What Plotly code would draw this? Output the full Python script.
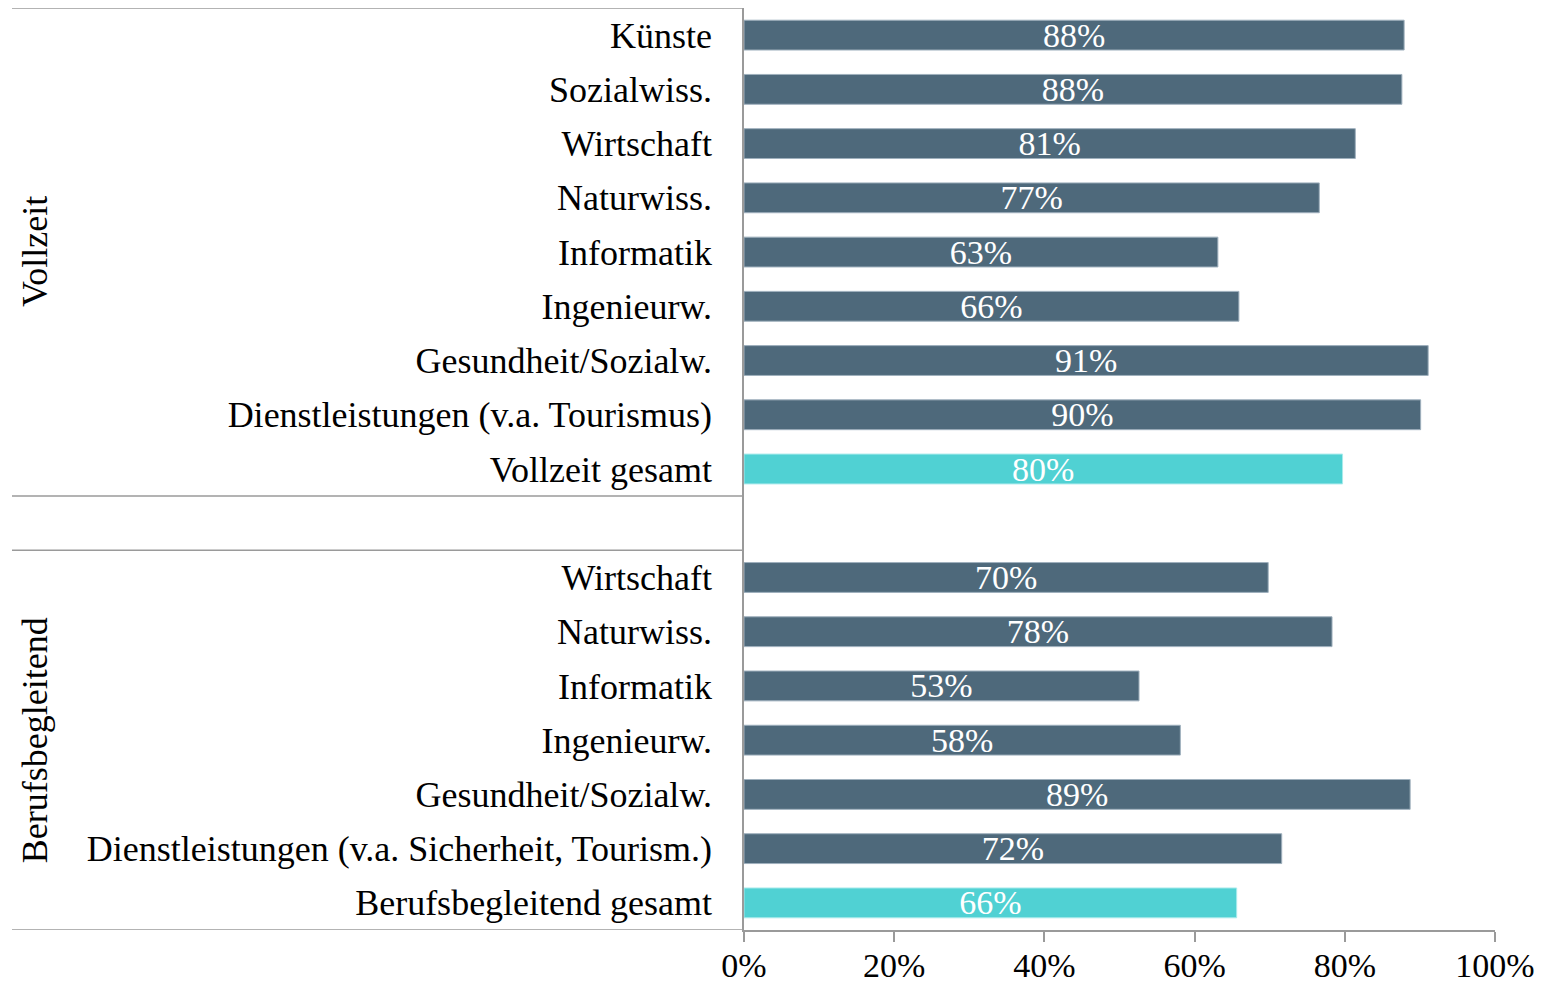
import plotly.graph_objects as go

# data (share, 0-1)
groups = ["Vollzeit", "Berufsbegleitend"]
cats_vollzeit = ["Künste", "Sozialwiss.", "Wirtschaft", "Naturwiss.", "Informatik",
                 "Ingenieurw.", "Gesundheit/Sozialw.", "Dienstleistungen (v.a. Tourismus)",
                 "Vollzeit gesamt"]
vals_vollzeit = [0.879, 0.876, 0.814, 0.766, 0.631, 0.659, 0.911, 0.901, 0.797]
cats_berufsb = ["Wirtschaft", "Naturwiss.", "Informatik", "Ingenieurw.", "Gesundheit/Sozialw.",
                "Dienstleistungen (v.a. Sicherheit, Tourism.)", "Berufsbegleitend gesamt"]
vals_berufsb = [0.698, 0.783, 0.526, 0.581, 0.887, 0.716, 0.656]
x_ticks = [0, 0.2, 0.4, 0.6, 0.8, 1.0]

DARK = "#4e697b"
CYAN = "#50d1d3"
LINE = "#9a9a9a"
FONT = "Liberation Serif"

# one empty slot between the two groups
pos_vz = list(range(len(cats_vollzeit)))
gap = len(cats_vollzeit)
pos_bb = [gap + 1 + i for i in range(len(cats_berufsb))]
ypos = pos_vz + pos_bb
labels = cats_vollzeit + cats_berufsb
values = vals_vollzeit + vals_berufsb
colors = [CYAN if "gesamt" in c else DARK for c in labels]
edges = ["#a8eaeb" if "gesamt" in c else "#9fb0bd" for c in labels]
n_slots = pos_bb[-1] + 1

fig = go.Figure()
fig.add_trace(go.Bar(
    y=ypos, x=values, orientation="h",
    marker=dict(color=colors, line=dict(width=1, color=edges)),
    width=0.55,
    texttemplate="%{x:.0%}",
    textposition="inside", insidetextanchor="middle",
    constraintext="none",
    textfont=dict(family=FONT, size=34, color="white"),
    hoverinfo="skip",
))

# page body has an 8px margin, so the figure is a bit smaller than the window
W, H = 1540, 979
L, R, T, B = 736, 53, 0, 57
plot_w = W - L - R

fig.update_layout(
    width=W, height=H,
    margin=dict(l=L, r=R, t=T, b=B),
    plot_bgcolor="white", paper_bgcolor="white",
    showlegend=False,
    font=dict(family=FONT, size=36, color="black"),
)
fig.update_xaxes(
    range=[0, 1], tickvals=x_ticks, tickformat=".0%",
    showgrid=False, zeroline=False, automargin=False,
    showline=True, linecolor=LINE, linewidth=1.5,
    ticks="outside", ticklen=10, tickcolor=LINE, tickwidth=1.5,
    tickfont=dict(family=FONT, size=34), ticklabelstandoff=-6,
)
fig.update_yaxes(
    range=[n_slots - 0.5, -0.5], tickvals=ypos, ticktext=labels,
    showgrid=False, zeroline=False, automargin=False,
    showline=True, linecolor=LINE, linewidth=1.5, ticks="",
    tickfont=dict(family=FONT, size=36), ticklabelstandoff=23,
)

# group separator lines left of the axis
x_left = (4 - L) / plot_w
for yb in [-0.5, gap - 0.5, gap + 0.5, n_slots - 0.5]:
    fig.add_shape(type="line", xref="paper", yref="y", x0=x_left, x1=0, y0=yb, y1=yb,
                  line=dict(color=LINE, width=1.5), layer="above")

# rotated group labels
x_grp = (27 - L) / plot_w
centers = [(pos_vz[0] + pos_vz[-1]) / 2, (pos_bb[0] + pos_bb[-1]) / 2]
for g, yc in zip(groups, centers):
    fig.add_annotation(text=g, xref="paper", yref="y", x=x_grp, y=yc, textangle=-90,
                       xanchor="center", yanchor="middle", showarrow=False,
                       font=dict(family=FONT, size=36, color="black"))

fig.write_html("out.html")
